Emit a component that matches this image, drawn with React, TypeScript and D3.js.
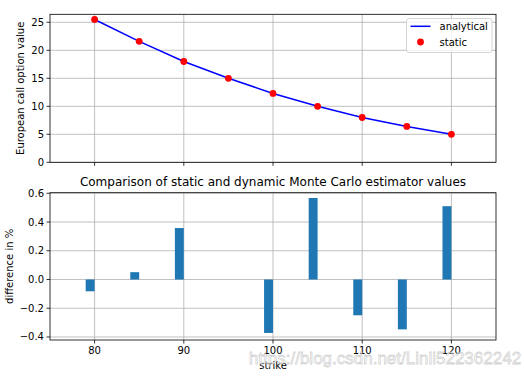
import React from "react";
import * as d3 from "d3";

const strikes = [80, 85, 90, 95, 100, 105, 110, 115, 120];
const analyticalValues = [25.5, 21.6, 18.0, 15.0, 12.3, 10.0, 8.0, 6.4, 5.0];
const staticValues = [25.5, 21.6, 18.0, 15.0, 12.3, 10.0, 8.0, 6.4, 5.0];
const diffValues = [-0.082, 0.051, 0.358, 0.0, -0.372, 0.567, -0.249, -0.347, 0.51];
const topYTicks = [0, 5, 10, 15, 20, 25];
const bottomYTicks = [-0.4, -0.2, 0.0, 0.2, 0.4, 0.6];
const xTicks = [80, 90, 100, 110, 120];

const W = 524;
const H = 377;
const FONT = "DejaVu Sans, sans-serif";
const GRID = "#b0b0b0";

export default function App() {
  const left = 50;
  const right = 496;
  const x = d3.scaleLinear().domain([75, 125]).range([left, right]);

  const top1 = 14.3;
  const bot1 = 162.3;
  const y1 = d3.scaleLinear().domain([0, 26.43]).range([bot1, top1]);

  const top2 = 192.7;
  const bot2 = 340;
  const y2 = d3.scaleLinear().domain([-0.421, 0.604]).range([bot2, top2]);

  const line = d3
    .line<number>()
    .x((_, i) => x(strikes[i]))
    .y((d) => y1(d));

  const fmt2 = (v: number) => {
    const s = v.toFixed(1);
    return v < 0 ? "\u2212" + s.slice(1) : s;
  };

  return (
    <svg
      width={W}
      height={H}
      style={{ position: "absolute", left: 0, top: 0, background: "#fff" }}
      fontFamily={FONT}
    >
      <rect x={0} y={0} width={W} height={H} fill="#fff" />
      {/* ---------- top panel ---------- */}
      <g>
        {xTicks.map((t) => (
          <line key={"gx1" + t} x1={x(t)} x2={x(t)} y1={top1} y2={bot1} stroke={GRID} strokeWidth={0.8} />
        ))}
        {topYTicks.map((t) => (
          <line key={"gy1" + t} x1={left} x2={right} y1={y1(t)} y2={y1(t)} stroke={GRID} strokeWidth={0.8} />
        ))}
        <path d={line(analyticalValues) || ""} fill="none" stroke="#0000ff" strokeWidth={1.5} />
        {staticValues.map((v, i) => (
          <circle key={"pt" + i} cx={x(strikes[i])} cy={y1(v)} r={3.4} fill="#ff0000" />
        ))}
        <rect x={left} y={top1} width={right - left} height={bot1 - top1} fill="none" stroke="#000" strokeWidth={0.8} />
        {topYTicks.map((t) => (
          <g key={"ty1" + t}>
            <line x1={left - 3.5} x2={left} y1={y1(t)} y2={y1(t)} stroke="#000" strokeWidth={0.8} />
            <text x={left - 6} y={y1(t)} dy="0.35em" textAnchor="end" fontSize={10} fill="#000">
              {t}
            </text>
          </g>
        ))}
        {xTicks.map((t) => (
          <line key={"tx1" + t} x1={x(t)} x2={x(t)} y1={bot1} y2={bot1 + 3.5} stroke="#000" strokeWidth={0.8} />
        ))}
        <text
          transform={`translate(20.5,${(top1 + bot1) / 2}) rotate(-90)`}
          textAnchor="middle"
          dy="0.35em"
          fontSize={10}
          fill="#000"
        >
          European call option value
        </text>
        {/* legend */}
        <g>
          <rect x={406.5} y={18.5} width={85.5} height={34} rx={2.5} fill="#fff" fillOpacity={0.8} stroke="#cccccc" strokeWidth={0.8} />
          <line x1={410.5} x2={430.5} y1={26.3} y2={26.3} stroke="#0000ff" strokeWidth={1.5} />
          <text x={439.5} y={26.3} dy="0.35em" fontSize={10} fill="#000">
            analytical
          </text>
          <circle cx={420.5} cy={42} r={3.4} fill="#ff0000" />
          <text x={439.5} y={42} dy="0.35em" fontSize={10} fill="#000">
            static
          </text>
        </g>
      </g>

      {/* ---------- bottom panel ---------- */}
      <g>
        <text x={(left + right) / 2} y={181.5} dy="0.35em" textAnchor="middle" fontSize={12} fill="#000">
          Comparison of static and dynamic Monte Carlo estimator values
        </text>
        {xTicks.map((t) => (
          <line key={"gx2" + t} x1={x(t)} x2={x(t)} y1={top2} y2={bot2} stroke={GRID} strokeWidth={0.8} />
        ))}
        {bottomYTicks.map((t) => (
          <line key={"gy2" + t} x1={left} x2={right} y1={y2(t)} y2={y2(t)} stroke={GRID} strokeWidth={0.8} />
        ))}
        {diffValues.map((v, i) => {
          const x0 = x(strikes[i] - 1);
          const x1v = x(strikes[i]);
          const ya = y2(Math.max(0, v));
          const yb = y2(Math.min(0, v));
          return (
            <rect key={"bar" + i} x={x0} y={ya} width={x1v - x0} height={Math.max(0, yb - ya)} fill="#1f77b4" />
          );
        })}
        <rect x={left} y={top2} width={right - left} height={bot2 - top2} fill="none" stroke="#000" strokeWidth={0.8} />
        {bottomYTicks.map((t) => (
          <g key={"ty2" + t}>
            <line x1={left - 3.5} x2={left} y1={y2(t)} y2={y2(t)} stroke="#000" strokeWidth={0.8} />
            <text x={left - 6} y={y2(t)} dy="0.35em" textAnchor="end" fontSize={10} fill="#000">
              {fmt2(t)}
            </text>
          </g>
        ))}
        {xTicks.map((t) => (
          <g key={"tx2" + t}>
            <line x1={x(t)} x2={x(t)} y1={bot2} y2={bot2 + 3.5} stroke="#000" strokeWidth={0.8} />
            <text x={x(t)} y={bot2 + 6} dy="0.75em" textAnchor="middle" fontSize={10} fill="#000">
              {t}
            </text>
          </g>
        ))}
        <text x={(left + right) / 2} y={365} dy="0.35em" textAnchor="middle" fontSize={10} fill="#000">
          strike
        </text>
        <text
          transform={`translate(9,${(top2 + bot2) / 2}) rotate(-90)`}
          textAnchor="middle"
          dy="0.35em"
          fontSize={10}
          fill="#000"
        >
          difference in %
        </text>
      </g>

      {/* watermark */}
      <text
        x={385}
        y={358}
        dy="0.35em"
        textAnchor="middle"
        fontSize={17}
        fontFamily="Arial, Liberation Sans, sans-serif"
        fill="#ffffff"
        fillOpacity={0.6}
        stroke="#9a9a9a"
        strokeOpacity={0.45}
        strokeWidth={0.8}
      >
        https://blog.csdn.net/Linli522362242
      </text>
    </svg>
  );
}
